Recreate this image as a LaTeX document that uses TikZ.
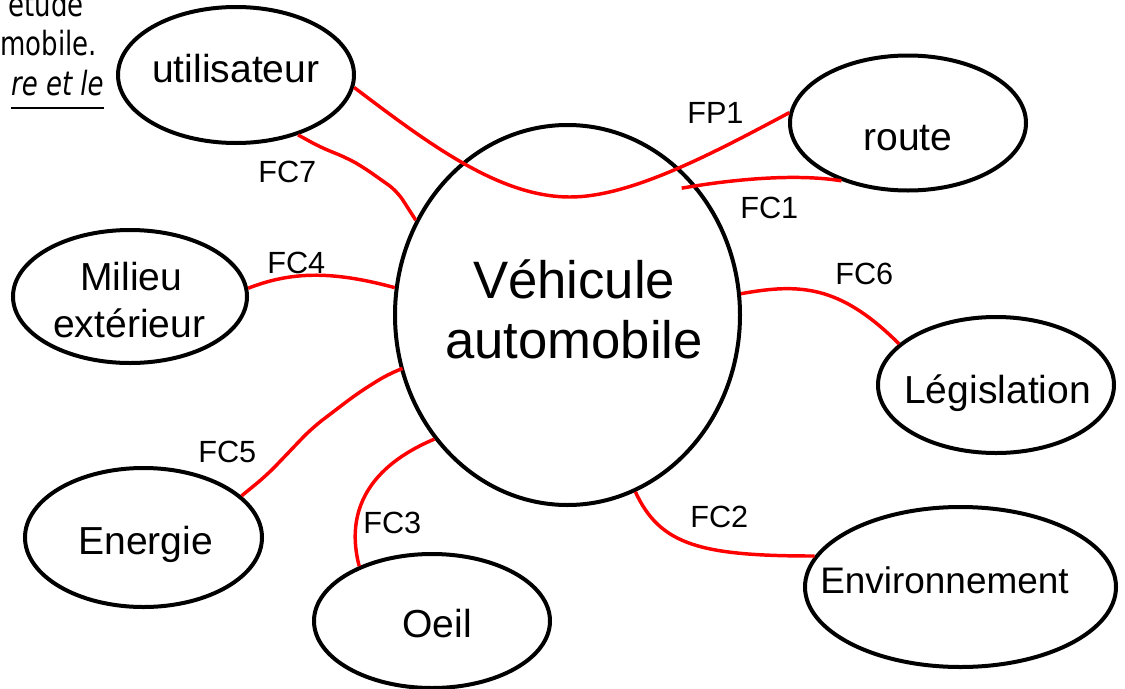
\documentclass[tikz,border=0pt]{standalone}
\usepackage{fontspec}
\setmainfont{Liberation Sans}
\newfontfamily\handfont[FakeStretch=0.78]{DejaVu Sans}
\usetikzlibrary{shapes.geometric,calc}
\begin{document}
\begin{tikzpicture}[x=0.75pt,y=-0.75pt,
  blob/.style={ellipse,draw,line width=3pt,inner sep=0pt},
  link/.style={draw=red,line width=2.6pt},
  lbl/.style={anchor=base west,inner sep=0pt,font=\fontsize{23}{27}\selectfont},
  txt/.style={anchor=base west,inner sep=0pt,font=\fontsize{29.3}{35}\selectfont},
  big/.style={anchor=base west,inner sep=0pt,font=\fontsize{39.5}{47}\selectfont},
  hand/.style={anchor=base east,inner sep=0pt,font=\handfont\fontsize{25}{30}\selectfont}]
\useasboundingbox (0,0) rectangle (1125,689);
\clip (0,0) rectangle (1125,689);

% partial text at top left
\node[hand] (t1) at (84,16) {étude};
\node[hand] (t2) at (97,55) {mobile.};
\node[hand,font=\handfont\itshape\fontsize{25}{30}\selectfont] (t3) at (104,95) {re et le};
\draw[line width=1.4pt] ([yshift=-9.5pt]t3.base west) -- ([yshift=-9.5pt]t3.base east);

% ellipses
\node[blob,minimum width=177pt,minimum height=102pt] (U) at (236,75) {};
\node[blob,minimum width=177pt,minimum height=101.25pt] (R) at (908,123) {};
\node[blob,minimum width=258.75pt,minimum height=285pt] (V) at (567.5,315) {};
\node[blob,minimum width=175.5pt,minimum height=99.75pt] (M) at (130,296.5) {};
\node[blob,minimum width=177pt,minimum height=102pt] (L) at (996,385) {};
\node[blob,minimum width=177.75pt,minimum height=104.25pt] (E) at (143.5,537.5) {};
\node[blob,minimum width=177pt,minimum height=100.5pt] (O) at (432,621) {};
\node[blob,minimum width=233.25pt,minimum height=120pt] (N) at (960.5,587) {};

% texts in ellipses
\node[txt] (Ut) at (152,82) {utilisateur};
\node[txt] (Rt) at (863,150) {route};
\node[big] (Vt1) at (473,298) {Véhicule};
\node[big] (Vt2) at (445,358) {automobile};
\node[txt] (Mt1) at (80,290) {Milieu};
\node[txt] (Mt2) at (53,337) {extérieur};
\node[txt] (Lt) at (904,403) {Législation};
\node[txt] (Et) at (78,554) {Energie};
\node[txt] (Ot) at (402,637) {Oeil};
\node[txt,font=\fontsize{27.7}{33}\selectfont] (Nt) at (820,593) {Environnement};

% connectors
\draw[link] (U.-6) .. controls (430,145) and (500,197) .. (570,197)
  .. controls (630,197) and (710,155) .. (R.175);
\draw[link] ($(V.center)!0.93!(V.48)$) .. controls (740,178) and (800,174) .. (R.221);
\draw[link,rounded corners=8pt] (U.-44) -- (320,147) -- (347,158) -- (363,167) -- (397,191) -- (V.148);
\draw[link] (M.4) .. controls (290,272) and (330,270) .. (V.171);
\draw[link] (V.7) .. controls (800,283) and (840,285) .. (L.157);
\draw[link] (V.-69) .. controls (660,545) and (700,556) .. (N.168);
\draw[link] (V.223) .. controls (368,467) and (345,512) .. (O.143);
\draw[link,rounded corners=10pt] (E.23) -- (267,475) -- (312,428) -- (358,393) -- (390,373) -- (V.198);

% labels
\node[lbl] (fp1) at (687,123) {FP1};
\node[lbl] (fc1) at (740,218) {FC1};
\node[lbl] (fc7) at (258,182) {FC7};
\node[lbl] (fc4) at (267,273) {FC4};
\node[lbl] (fc6) at (835,284) {FC6};
\node[lbl] (fc5) at (198,462) {FC5};
\node[lbl] (fc3) at (363,533) {FC3};
\node[lbl] (fc2) at (690,527) {FC2};
\end{tikzpicture}
\end{document}
